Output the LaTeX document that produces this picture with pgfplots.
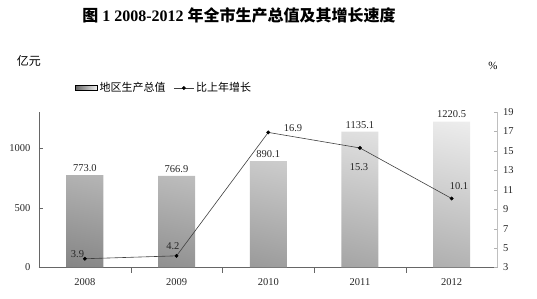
\documentclass[border=0pt]{standalone}
\usepackage{fontspec}
\setmainfont{Liberation Serif}
\newfontfamily\cjk{Noto Sans CJK SC}
\usepackage{pgfplots}
\pgfplotsset{compat=1.18}
\usetikzlibrary{shadings}
\pgfplotstableread{
x gdp growth
0 773.0 3.9
1 766.9 4.2
2 890.1 16.9
3 1135.1 15.3
4 1220.5 10.1
}\datatable
\begin{document}
\begin{tikzpicture}[x=1pt,y=1pt]
\useasboundingbox (-39,-31.5) rectangle (498,267.5);
\pgfplotsset{common/.style={scale only axis, width=458.5pt, height=155.5pt,
  xmin=-0.5, xmax=4.5, at={(0pt,0pt)}, anchor=south west,
  /pgf/number format/assume math mode=true,
  /pgf/number format/1000 sep={},
  tick label style={font=\fontsize{10.5}{12}\selectfont, text=black!85}}}
\begin{axis}[common, ymin=0, ymax=1300, ytick={0,500,1000},
  axis x line*=bottom, axis y line*=left,
  axis line style={black!60, line width=0.7pt},
  xtick={0,...,4}, xticklabels={2008,2009,2010,2011,2012},
  major x tick style={draw=none},
  minor xtick={0.5,1.5,2.5,3.5}, minor tick length=5pt,
  minor x tick style={black!60},
  major tick length=4pt,
  xtick align=center,
  y tick style={black!60},
  ytick align=inside,
  xticklabel style={yshift=-3pt},
  yticklabel style={xshift=-5pt},
  ybar, bar width=37pt,
  nodes near coords,
  nodes near coords style={font=\fontsize{10.5}{12}\selectfont, text=black!85,
     /pgf/number format/.cd, fixed, fixed zerofill, precision=1, 1000 sep={}, assume math mode=true},
  ]
\addplot[draw=none, lower left=black!48, lower right=black!30, upper left=black!20, upper right=black!7]
  table[x=x, y=gdp] {\datatable};
\end{axis}
\begin{axis}[common, ymin=3, ymax=19, ytick={3,5,...,19},
  axis y line*=right, axis x line=none,
  axis line style={black!25, line width=0.5pt},
  y tick style={black!30},
  major tick length=4pt,
  yticklabel style={xshift=2pt},
  legend style={at={(0.273,1.154)}, anchor=center, draw=none, fill=none,
     legend columns=2, font=\cjk\fontsize{11}{12}\selectfont,
     /tikz/every even column/.append style={column sep=6pt}},
  ]
\addlegendimage{legend image code/.code={\fill[left color=black!60, right color=black!5] (0pt,-2.5pt) rectangle (22pt,2.5pt);}}
\addlegendentry{地区生产总值}
\addplot[black!75, line width=0.6pt, mark=*, mark size=1.6pt, mark options={fill=black, draw=black},
  legend image code/.code={\draw[black!75, line width=0.6pt] (0pt,0pt) -- (20pt,0pt); \fill[black] (10pt,0pt) circle (1.6pt);}]
  table[x=x, y=growth] {\datatable};
\addlegendentry{比上年增长}
\begin{scope}[every node/.style={font=\fontsize{10.5}{12}\selectfont, text=black!85}]
\node at (axis cs:-0.08,4.4) {3.9};
\node at (axis cs:0.96,5.2) {4.2};
\node at (axis cs:2.27,17.3) {16.9};
\node at (axis cs:2.99,13.3) {15.3};
\node at (axis cs:4.08,11.35) {10.1};
\end{scope}
\end{axis}
\node[font=\fontsize{16}{18}\selectfont\bfseries, anchor=center] at (200,252) {{\cjk 图} 1 2008-2012 {\cjk 年全市生产总值及其增长速度}};
\node[font=\cjk\fontsize{12}{14}\selectfont] at (-10,207) {亿元};
\node[font=\fontsize{11}{12}\selectfont] at (454,202) {\%};
\end{tikzpicture}
\end{document}
